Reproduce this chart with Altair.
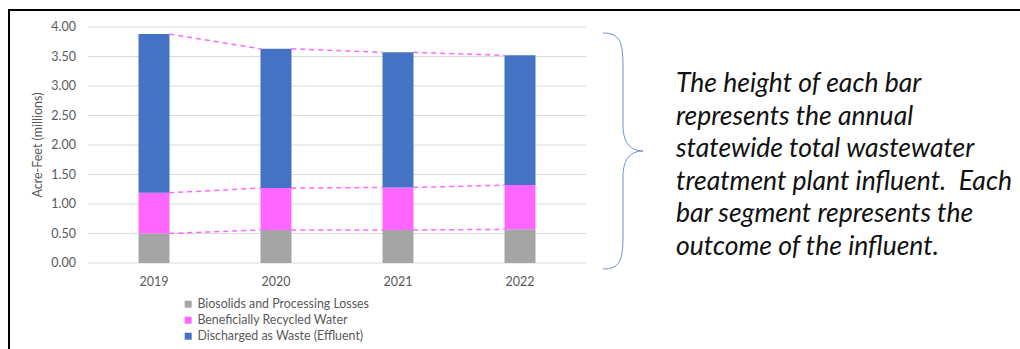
import altair as alt
import pandas as pd

years = ["2019", "2020", "2021", "2022"]
series = ["Biosolids and Processing Losses", "Beneficially Recycled Water", "Discharged as Waste (Effluent)"]
colors = ["#A5A5A5", "#FF66FF", "#4472C4"]
biosolids = [0.50, 0.56, 0.56, 0.57]
recycled = [0.69, 0.71, 0.72, 0.75]
discharged = [2.69, 2.36, 2.29, 2.20]
y_ticks = [0, 0.5, 1, 1.5, 2, 2.5, 3, 3.5, 4]
y_title = "Acre-Feet (millions)"

note_lines = [
    "The height of each bar",
    "represents the annual",
    "statewide total wastewater",
    "treatment plant influent.\u00a0\u00a0Each",
    "bar segment represents the",
    "outcome of the influent.",
]

FONT = "Lato"
GREY_TXT = "#595959"
HALF = 0.125  # half bar width in x units

rows = []
for i, y in enumerate(years):
    for k, (s, vals) in enumerate(zip(series, [biosolids, recycled, discharged])):
        rows.append({"idx": i, "year": y, "series": s, "k": k, "value": vals[i]})
df = pd.DataFrame(rows)

levels = []
for i in range(len(years)):
    b = biosolids[i]
    r = b + recycled[i]
    t = r + discharged[i]
    levels.append([b, r, t])
seg = []
for i in range(len(years) - 1):
    for j in range(3):
        seg.append({"xa": i + HALF, "xb": i + 1 - HALF, "ya": levels[i][j], "yb": levels[i + 1][j]})
seg_df = pd.DataFrame(seg)

tick_df = pd.DataFrame({"t": y_ticks, "lab": [f"{t:.2f}" for t in y_ticks]})
year_df = pd.DataFrame({"idx": list(range(len(years))), "year": years})

xscale = alt.Scale(domain=[-0.5, 3.5], nice=False, zero=False)
yscale = alt.Scale(domain=[0, 4], nice=False)

grid = alt.Chart(tick_df).mark_rule(color="#D9D9D9", strokeWidth=1, strokeCap="butt").encode(
    y=alt.Y("t:Q", scale=yscale, axis=None), x=alt.value(0), x2=alt.value(498))

ylabels = alt.Chart(tick_df).mark_text(
    align="right", baseline="middle", font=FONT, fontSize=12.5, color=GREY_TXT
).encode(y=alt.Y("t:Q", scale=yscale, axis=None), x=alt.value(-12), text="lab:N")

xlabels = alt.Chart(year_df).mark_text(
    align="center", baseline="middle", font=FONT, fontSize=12.5, color=GREY_TXT
).encode(x=alt.X("idx:Q", scale=xscale, axis=None), y=alt.value(255), text="year:N")

one = pd.DataFrame({"a": [0]})

ytitle = alt.Chart(one).mark_text(
    text=y_title, angle=270, align="center", baseline="middle", font=FONT, fontSize=12.5,
    color=GREY_TXT
).encode(x=alt.value(-50), y=alt.value(118))

bars = alt.Chart(df).mark_bar(size=31).encode(
    x=alt.X("idx:Q", scale=xscale, axis=None),
    y=alt.Y("value:Q", scale=yscale, stack="zero", axis=None),
    color=alt.Color("series:N", scale=alt.Scale(domain=series, range=colors),
                    legend=alt.Legend(orient="none", legendX=94, legendY=271, direction="vertical",
                                      title=None, symbolType="square", symbolSize=49,
                                      symbolStrokeWidth=0, labelFont=FONT, labelFontSize=12.4,
                                      labelColor=GREY_TXT, rowPadding=3, labelOffset=3,
                                      labelLimit=400)),
    order=alt.Order("k:Q", sort="ascending"),
)

lines = alt.Chart(seg_df).mark_rule(color="#FF66FF", strokeDash=[5, 4], strokeWidth=1.5).encode(
    x=alt.X("xa:Q", scale=xscale, axis=None), x2="xb:Q",
    y=alt.Y("ya:Q", scale=yscale, axis=None), y2="yb:Q",
)

note = alt.Chart(one).mark_text(
    text=note_lines, align="left", baseline="alphabetic", font=FONT, fontSize=26.5,
    fontStyle="italic", color="#111111", lineHeight=32.5,
).encode(x=alt.value(588), y=alt.value(65))

brace_path = ("M-0.17,-1 C-0.03,-1 0,-0.93 0,-0.72 L0,-0.22 C0,-0.06 0.07,0 0.17,0 "
              "C0.07,0 0,0.06 0,0.22 L0,0.72 C0,0.93 -0.03,1 -0.17,1")
brace = alt.Chart(one).mark_point(
    shape=brace_path, filled=False, color="#6F8FD0", strokeWidth=1, opacity=1, size=55696,
).encode(x=alt.value(535), y=alt.value(124))

frame_top = alt.Chart(one).mark_rule(color="#000000", strokeWidth=2).encode(
    x=alt.value(-79), x2=alt.value(940), y=alt.value(-17))
frame_left = alt.Chart(one).mark_rule(color="#000000", strokeWidth=2).encode(
    x=alt.value(-79), y=alt.value(-18), y2=alt.value(330))

chart = alt.layer(grid, ylabels, xlabels, ytitle, bars, lines, brace, note,
                  frame_top, frame_left).properties(
    width=498, height=236, background="white",
    autosize=alt.AutoSizeParams(type="none"),
    padding={"left": 88, "top": 27, "right": 434, "bottom": 86},
).configure_view(strokeWidth=0, stroke="transparent")

chart.save("out.html", embed_options={"renderer": "svg", "actions": False})
